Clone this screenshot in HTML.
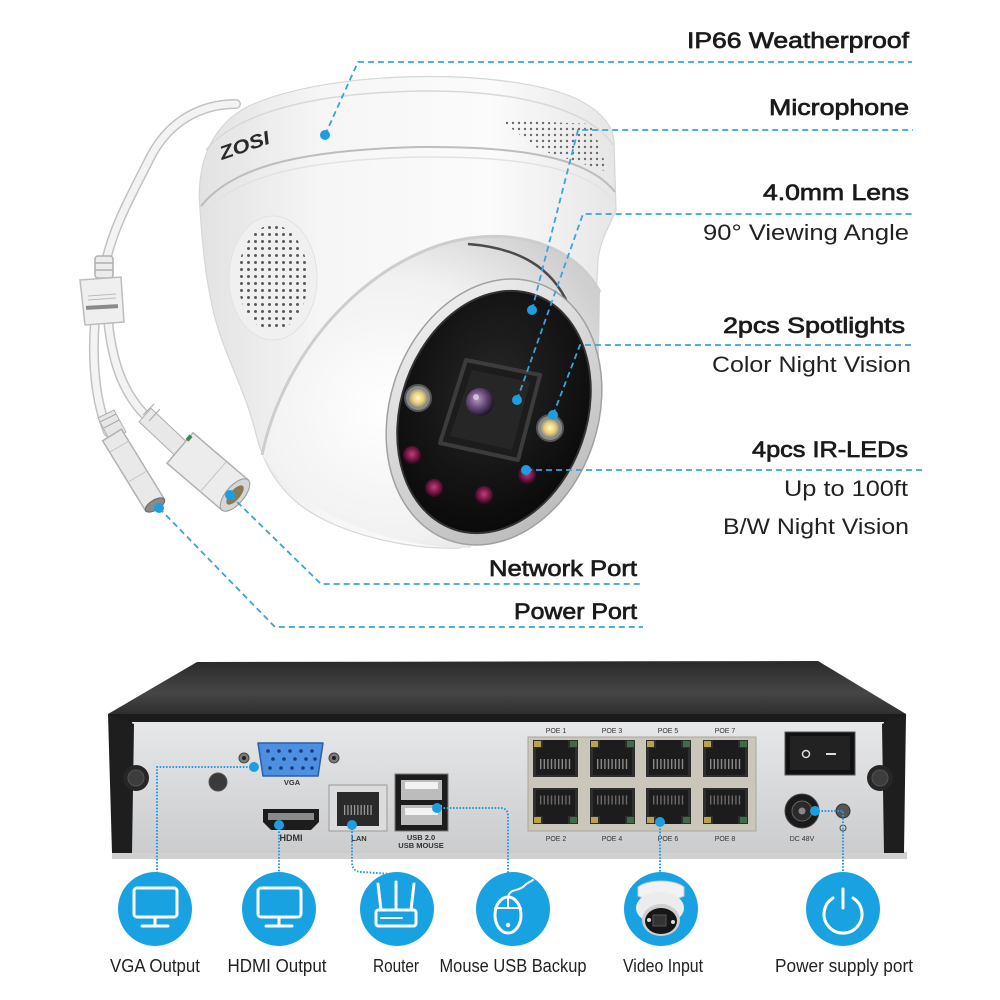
<!DOCTYPE html>
<html><head><meta charset="utf-8"><style>
html,body{margin:0;padding:0;background:#fff;width:1000px;height:1000px;overflow:hidden}
svg{display:block}
</style></head><body>
<svg width="1000" height="1000" viewBox="0 0 1000 1000" xmlns="http://www.w3.org/2000/svg" font-family="'Liberation Sans', Arial, sans-serif">
<defs>
  <linearGradient id="bodyG" x1="0" y1="0" x2="1" y2="0">
    <stop offset="0" stop-color="#e2e2e2"/><stop offset="0.3" stop-color="#f6f6f6"/>
    <stop offset="0.7" stop-color="#fbfbfb"/><stop offset="1" stop-color="#e6e6e6"/>
  </linearGradient>
  <radialGradient id="eyeG" cx="0.38" cy="0.55" r="0.7">
    <stop offset="0" stop-color="#ffffff"/><stop offset="0.6" stop-color="#f1f1f1"/><stop offset="1" stop-color="#cfcfcf"/>
  </radialGradient>
  <linearGradient id="bezelG" x1="0" y1="0" x2="1" y2="1">
    <stop offset="0" stop-color="#f5f5f5"/><stop offset="1" stop-color="#b4b4b4"/>
  </linearGradient>
  <radialGradient id="faceG" cx="0.45" cy="0.4" r="0.7">
    <stop offset="0" stop-color="#262626"/><stop offset="1" stop-color="#060606"/>
  </radialGradient>
  <radialGradient id="lensG" cx="0.4" cy="0.4" r="0.6">
    <stop offset="0" stop-color="#b59ac0"/><stop offset="0.5" stop-color="#6e4f7e"/><stop offset="1" stop-color="#22162a"/>
  </radialGradient>
  <radialGradient id="spotG" cx="0.5" cy="0.5" r="0.5">
    <stop offset="0" stop-color="#fff8d0"/><stop offset="0.6" stop-color="#e8d070"/><stop offset="1" stop-color="#9a9a8a"/>
  </radialGradient>
  <radialGradient id="irG" cx="0.5" cy="0.45" r="0.5">
    <stop offset="0" stop-color="#c0407a"/><stop offset="0.6" stop-color="#7a1a48"/><stop offset="1" stop-color="#3a0a22"/>
  </radialGradient>
  <linearGradient id="nvrTop" x1="0" y1="0" x2="0" y2="1">
    <stop offset="0" stop-color="#2a2a2a"/><stop offset="0.6" stop-color="#464646"/><stop offset="1" stop-color="#2e2e2e"/>
  </linearGradient>
  <linearGradient id="panel" x1="0" y1="0" x2="0" y2="1">
    <stop offset="0" stop-color="#e6e7e9"/><stop offset="1" stop-color="#cbccce"/>
  </linearGradient>
  <pattern id="dots" width="7" height="7" patternUnits="userSpaceOnUse">
    <circle cx="3.5" cy="3.5" r="1.5" fill="#5a5a5a"/>
  </pattern>
  <pattern id="dots2" width="6" height="6" patternUnits="userSpaceOnUse">
    <circle cx="3" cy="3" r="1.2" fill="#6a6a6a"/>
  </pattern>
  <g id="rjT">
    <rect x="0" y="0" width="45" height="37" fill="#2e2e2e"/>
    <rect x="3" y="8" width="39" height="27" fill="#1c1c1c"/>
    <rect x="10" y="0" width="25" height="9" fill="#1c1c1c"/>
    <line x1="7" y1="24" x2="38" y2="24" stroke="#8a8a8a" stroke-width="10" stroke-dasharray="1.4 2.2"/>
    <rect x="1" y="1" width="7" height="6" fill="#b9a24a"/>
    <rect x="37" y="1" width="7" height="6" fill="#3f6b46"/>
  </g>
  <g id="rjB">
    <rect x="0" y="0" width="45" height="36" fill="#2e2e2e"/>
    <rect x="3" y="2" width="39" height="26" fill="#1c1c1c"/>
    <rect x="10" y="27" width="25" height="9" fill="#1c1c1c"/>
    <line x1="7" y1="12" x2="38" y2="12" stroke="#6a6a6a" stroke-width="9" stroke-dasharray="1.4 2.2"/>
    <rect x="1" y="29" width="7" height="6" fill="#b9a24a"/>
    <rect x="37" y="29" width="7" height="6" fill="#3f6b46"/>
  </g>
</defs>

<rect width="1000" height="1000" fill="#fff"/>

<!-- ========== CABLES ========== -->
<g fill="none" stroke-linecap="round">
  <path d="M236,104 C200,104 168,122 150,158 C132,194 112,228 104,270" stroke="#c2c2c2" stroke-width="10"/>
  <path d="M236,104 C200,104 168,122 150,158 C132,194 112,228 104,270" stroke="#f3f3f3" stroke-width="7"/>
  <path d="M95,320 C92,360 95,400 108,432" stroke="#c2c2c2" stroke-width="10"/>
  <path d="M95,320 C92,360 95,400 108,432" stroke="#f3f3f3" stroke-width="7"/>
  <path d="M108,320 C112,360 122,392 146,416" stroke="#c2c2c2" stroke-width="10"/>
  <path d="M108,320 C112,360 122,392 146,416" stroke="#f3f3f3" stroke-width="7"/>
</g>
<!-- splitter collar -->
<g stroke="#b0b0b0" stroke-width="1.5">
  <rect x="95" y="256" width="18" height="22" rx="3" fill="#ececec"/>
  <line x1="95" y1="263" x2="113" y2="263"/><line x1="95" y1="270" x2="113" y2="270"/>
</g>
<polygon points="80,280 121,277 124,322 85,325" fill="#efefef" stroke="#bcbcbc" stroke-width="1.5"/>
<line x1="88" y1="296" x2="116" y2="294" stroke="#bbb" stroke-width="1"/>
<line x1="88" y1="300" x2="116" y2="298" stroke="#bbb" stroke-width="1"/>
<rect x="86" y="305" width="32" height="4" fill="#8a8a8a" transform="rotate(-3 102 307)"/>
<!-- power connector -->
<g>
  <polygon points="98,418 114,410 126,432 110,441" fill="#e6e6e6" stroke="#b0b0b0"/>
  <line x1="100" y1="422" x2="116" y2="414" stroke="#aaa"/><line x1="104" y1="428" x2="119" y2="420" stroke="#aaa"/>
  <polygon points="102.6,440.8 121.4,429.2 164.4,499.2 145.6,510.8" fill="#e9e9e9" stroke="#b2b2b2" stroke-width="1.5"/>
  <line x1="110" y1="452" x2="129" y2="441" stroke="#c4c4c4"/>
  <line x1="128" y1="482" x2="147" y2="471" stroke="#c4c4c4"/>
  <ellipse cx="155" cy="505" rx="11" ry="5" transform="rotate(-31.6 155 505)" fill="#8a8a8a" stroke="#666"/>
</g>
<!-- network connector -->
<g>
  <polygon points="150.9,408.2 139.1,421.8 174.1,454.8 185.9,441.2" fill="#e8e8e8" stroke="#b0b0b0"/>
  <line x1="143" y1="415" x2="154" y2="404" stroke="#aaa"/><line x1="149" y1="421" x2="160" y2="409" stroke="#aaa"/>
  <polygon points="193,432.8 167,463.2 222,510.2 248,479.8" fill="#ececec" stroke="#b0b0b0" stroke-width="1.5"/>
  <rect x="186" y="436" width="6" height="4" fill="#3a8a4a" transform="rotate(-49 189 438)"/>
  <line x1="200" y1="492" x2="226" y2="462" stroke="#c6c6c6"/>
  <ellipse cx="235" cy="495" rx="20" ry="9" transform="rotate(-49.3 235 495)" fill="#d6d6d6" stroke="#999"/>
  <ellipse cx="235" cy="495" rx="12" ry="5" transform="rotate(-49.3 235 495)" fill="#8a7a52"/>
</g>

<!-- ========== CAMERA ========== -->
<path d="M200,210 C196,165 210,128 245,108 C320,70 500,66 575,98 C600,110 613,125 614,142 L616,210 C610,225 600,240 598,260 L596,300 L560,500 L460,548 C410,550 340,535 300,505 C275,485 262,460 255,430 C245,390 222,350 213,310 C205,275 202,240 200,210 Z" fill="url(#bodyG)" stroke="#d6d6d6" stroke-width="1.2"/>
<path d="M206,150 C240,110 320,93 420,91 C520,90 590,110 613,145" fill="none" stroke="#d8d8d8" stroke-width="1.5"/>
<path d="M201,206 C230,170 290,150 420,147 C530,146 590,160 615,192" fill="none" stroke="#bdbdbd" stroke-width="2"/>
<path d="M203,214 C232,180 292,160 420,157 C530,156 590,170 615,202" fill="none" stroke="#e2e2e2" stroke-width="1.5"/>
<text x="0" y="0" transform="translate(222,160) rotate(-19)" font-size="19" font-weight="bold" font-style="italic" fill="#2a2a2a" textLength="52" lengthAdjust="spacingAndGlyphs">ZOSI</text>
<polygon points="500,120 592,124 608,172 540,150" fill="url(#dots2)"/>
<ellipse cx="273" cy="278" rx="44" ry="62" fill="#f0f0f0" stroke="#e2e2e2"/>
<ellipse cx="273" cy="278" rx="35" ry="53" fill="url(#dots)"/>
<path d="M262,455 C285,345 375,252 470,238 C530,230 578,252 600,292 L598,420 L470,548 C390,548 300,515 262,455 Z" fill="url(#eyeG)"/>
<path d="M262,455 C285,345 375,252 470,238 C530,230 578,252 600,292" fill="none" stroke="#cdcdcd" stroke-width="3"/>
<path d="M468,244 C520,248 552,268 568,304" fill="none" stroke="#4a4a4a" stroke-width="2.5"/>
<g transform="rotate(19 494 412)">
  <ellipse cx="494" cy="412" rx="104" ry="136" fill="url(#bezelG)" stroke="#a0a0a0" stroke-width="1.5"/>
  <ellipse cx="494" cy="412" rx="93" ry="124" fill="url(#faceG)" stroke="#333" stroke-width="2"/>
</g>
<polygon points="466,360 540,375 518,460 440,443" fill="#1c1c1c" stroke="#3c3c3c" stroke-width="4" stroke-linejoin="round"/>
<polygon points="472,370 530,382 512,450 450,436" fill="#262626"/>
<circle cx="480" cy="402" r="14" fill="url(#lensG)"/>
<circle cx="476" cy="397" r="3" fill="#e8d8f0" opacity="0.7"/>
<circle cx="418" cy="398" r="13" fill="#8a8a86" stroke="#555" stroke-width="2"/>
<circle cx="418" cy="398" r="9" fill="url(#spotG)"/>
<circle cx="550" cy="428" r="13" fill="#8a8a86" stroke="#555" stroke-width="2"/>
<circle cx="550" cy="428" r="9" fill="url(#spotG)"/>
<circle cx="412" cy="455" r="9" fill="url(#irG)"/>
<circle cx="434" cy="488" r="9" fill="url(#irG)"/>
<circle cx="484" cy="495" r="9" fill="url(#irG)"/>
<circle cx="527" cy="475" r="9" fill="url(#irG)"/>

<!-- ========== CAMERA CALLOUTS ========== -->
<g fill="none" stroke="#3ba3d6" stroke-width="1.8" stroke-dasharray="6 4">
  <polyline points="325,135 358,62 912,62"/>
  <polyline points="532,310 578,130 913,130"/>
  <polyline points="517,400 583,214 913,214"/>
  <polyline points="553,415 580,345 912,345"/>
  <polyline points="526,470 923,470"/>
  <polyline points="230,495 321,584 643,584"/>
  <polyline points="159,508 275,627 643,627"/>
</g>
<g fill="#1e9ee0">
  <circle cx="325" cy="135" r="5"/><circle cx="532" cy="310" r="5"/><circle cx="517" cy="400" r="5"/>
  <circle cx="553" cy="415" r="5"/><circle cx="526" cy="470" r="5"/><circle cx="230" cy="495" r="5"/>
  <circle cx="159" cy="508" r="5"/>
</g>

<g fill="#1b1b1b" stroke="#1b1b1b" stroke-width="0.7" font-size="22">
  <text x="687" y="48" textLength="222" lengthAdjust="spacingAndGlyphs">IP66 Weatherproof</text>
  <text x="769" y="115" textLength="140" lengthAdjust="spacingAndGlyphs">Microphone</text>
  <text x="763" y="200" textLength="146" lengthAdjust="spacingAndGlyphs">4.0mm Lens</text>
  <text x="723" y="333" textLength="182" lengthAdjust="spacingAndGlyphs">2pcs Spotlights</text>
  <text x="752" y="457" textLength="156" lengthAdjust="spacingAndGlyphs">4pcs IR-LEDs</text>
  <text x="489" y="576" textLength="148" lengthAdjust="spacingAndGlyphs">Network Port</text>
  <text x="514" y="619" textLength="123" lengthAdjust="spacingAndGlyphs">Power Port</text>
</g>
<g fill="#222" font-size="22">
  <text x="703" y="240" textLength="206" lengthAdjust="spacingAndGlyphs">90° Viewing Angle</text>
  <text x="712" y="372" textLength="199" lengthAdjust="spacingAndGlyphs">Color Night Vision</text>
  <text x="784" y="496" textLength="124" lengthAdjust="spacingAndGlyphs">Up to 100ft</text>
  <text x="723" y="534" textLength="186" lengthAdjust="spacingAndGlyphs">B/W Night Vision</text>
</g>

<!-- ========== NVR ========== -->
<rect x="112" y="852" width="795" height="7" fill="#9a9a9a" opacity="0.45"/>
<polygon points="197,662 818,661 906,714 108,714" fill="url(#nvrTop)"/>
<polygon points="108,714 906,714 900,724 114,724" fill="#1b1b1b"/>
<rect x="132" y="722" width="752" height="131" fill="url(#panel)"/>
<path d="M108,714 L134,724 L132,853 L112,853 Z" fill="#1e1e1e"/>
<path d="M906,714 L882,724 L884,853 L904,853 Z" fill="#1e1e1e"/>
<circle cx="136" cy="778" r="13" fill="#262626"/>
<circle cx="136" cy="778" r="8" fill="#3d3d3d" stroke="#555"/>
<circle cx="880" cy="778" r="13" fill="#262626"/>
<circle cx="880" cy="778" r="8" fill="#3d3d3d" stroke="#555"/>

<circle cx="244" cy="758" r="5" fill="#7a7a7a" stroke="#444"/><circle cx="244" cy="758" r="2" fill="#222"/>
<circle cx="334" cy="758" r="5" fill="#7a7a7a" stroke="#444"/><circle cx="334" cy="758" r="2" fill="#222"/>
<path d="M258,743 L323,743 L318,776 L263,776 Z" fill="#4d8fe0" stroke="#2a5fa8" stroke-width="1.5" stroke-linejoin="round"/>
<g fill="#1a3a70">
  <circle cx="268" cy="751" r="1.8"/><circle cx="279" cy="751" r="1.8"/><circle cx="290" cy="751" r="1.8"/><circle cx="301" cy="751" r="1.8"/><circle cx="312" cy="751" r="1.8"/>
  <circle cx="273" cy="759" r="1.8"/><circle cx="284" cy="759" r="1.8"/><circle cx="295" cy="759" r="1.8"/><circle cx="306" cy="759" r="1.8"/><circle cx="315" cy="759" r="1.8"/>
  <circle cx="270" cy="768" r="1.8"/><circle cx="281" cy="768" r="1.8"/><circle cx="292" cy="768" r="1.8"/><circle cx="303" cy="768" r="1.8"/><circle cx="312" cy="768" r="1.8"/>
</g>
<circle cx="218" cy="782" r="9" fill="#3a3a3a" stroke="#555"/>
<path d="M263,809 L319,809 L319,822 L311,830 L271,830 L263,822 Z" fill="#1c1c1c"/>
<rect x="268" y="813" width="46" height="7" fill="#8a8a8a"/>
<rect x="329" y="785" width="58" height="46" fill="#dcdcdc" stroke="#999"/>
<rect x="337" y="792" width="42" height="34" fill="#2a2a2a"/>
<line x1="344" y1="810" x2="372" y2="810" stroke="#999" stroke-width="10" stroke-dasharray="1.3 2"/>
<rect x="395" y="774" width="53" height="57" fill="#1c1c1c" stroke="#777"/>
<rect x="401" y="780" width="41" height="20" fill="#bcbcbc"/>
<rect x="405" y="782" width="33" height="7" fill="#f2f2f2"/>
<rect x="401" y="805" width="41" height="20" fill="#bcbcbc"/>
<rect x="405" y="808" width="33" height="7" fill="#f2f2f2"/>
<g font-size="7.5" font-weight="bold" fill="#333" text-anchor="middle">
  <text x="292" y="785">VGA</text>
  <text x="291" y="841" font-size="9">HDMI</text>
  <text x="359" y="841">LAN</text>
  <text x="421" y="840">USB 2.0</text>
  <text x="421" y="848">USB MOUSE</text>
</g>
<rect x="528" y="737" width="228" height="94" fill="#cbc6ba" stroke="#a9a69e"/>
<use href="#rjT" x="533" y="740"/><use href="#rjT" x="590" y="740"/><use href="#rjT" x="646" y="740"/><use href="#rjT" x="703" y="740"/>
<use href="#rjB" x="533" y="788"/><use href="#rjB" x="590" y="788"/><use href="#rjB" x="646" y="788"/><use href="#rjB" x="703" y="788"/>
<g font-size="7" fill="#333" text-anchor="middle">
  <text x="556" y="733">POE 1</text><text x="612" y="733">POE 3</text><text x="668" y="733">POE 5</text><text x="725" y="733">POE 7</text>
  <text x="556" y="841">POE 2</text><text x="612" y="841">POE 4</text><text x="668" y="841">POE 6</text><text x="725" y="841">POE 8</text>
  <text x="802" y="841">DC 48V</text>
</g>
<rect x="785" y="732" width="70" height="43" fill="#111" stroke="#555"/>
<rect x="790" y="736" width="60" height="34" fill="#222"/>
<circle cx="806" cy="754" r="3.5" fill="none" stroke="#ddd" stroke-width="1.5"/>
<line x1="826" y1="754" x2="836" y2="754" stroke="#ddd" stroke-width="2"/>
<circle cx="802" cy="811" r="17" fill="#1a1a1a" stroke="#444"/>
<circle cx="802" cy="811" r="10" fill="#2a2a2a" stroke="#666"/>
<circle cx="802" cy="811" r="3.5" fill="#888"/>
<circle cx="843" cy="811" r="7" fill="#555" stroke="#333"/>
<circle cx="843" cy="828" r="3" fill="none" stroke="#444"/>

<g fill="none" stroke="#2b9be0" stroke-width="2" stroke-dasharray="1.6 1.6">
  <polyline points="254,767 157,767 157,874"/>
  <polyline points="279,825 279,874"/>
  <path d="M352,825 L352,862 Q352,872 362,872 L392,874"/>
  <path d="M437,808 L500,808 Q508,808 508,816 L508,874"/>
  <polyline points="660,822 660,874"/>
  <polyline points="815,811 843,811 843,874"/>
</g>
<g fill="#1e9ee0">
  <circle cx="254" cy="767" r="5"/><circle cx="279" cy="825" r="5"/><circle cx="352" cy="825" r="5"/>
  <circle cx="437" cy="808" r="5"/><circle cx="660" cy="822" r="5"/><circle cx="815" cy="811" r="5"/>
</g>

<!-- ========== BOTTOM ICONS ========== -->
<g fill="#19a2e2">
  <circle cx="155" cy="909" r="37"/><circle cx="279" cy="909" r="37"/><circle cx="397" cy="909" r="37"/>
  <circle cx="513" cy="909" r="37"/><circle cx="661" cy="909" r="37"/><circle cx="843" cy="909" r="37"/>
</g>
<g fill="none" stroke="#fff" stroke-width="3" stroke-linecap="round" stroke-linejoin="round">
  <rect x="134" y="888" width="43" height="29" rx="3"/>
  <line x1="155" y1="917" x2="155" y2="925"/><line x1="142" y1="926" x2="168" y2="926"/>
  <rect x="258" y="888" width="43" height="29" rx="3"/>
  <line x1="279" y1="917" x2="279" y2="925"/><line x1="266" y1="926" x2="292" y2="926"/>
  <rect x="376" y="910" width="40" height="16" rx="2.5"/>
  <line x1="381" y1="910" x2="378" y2="884"/><line x1="396" y1="910" x2="396" y2="882"/><line x1="411" y1="910" x2="414" y2="884"/>
  <line x1="381" y1="918" x2="402" y2="918" stroke-width="2"/>
  <ellipse cx="508" cy="915" rx="13" ry="18"/>
  <line x1="508" y1="897" x2="508" y2="908" stroke-width="2"/>
  <line x1="495" y1="908" x2="521" y2="908" stroke-width="2"/>
  <path d="M508,897 C510,888 518,892 524,886 C528,882 530,882 533,880" stroke-width="2"/>
  <path d="M833,898 A19,19 0 1,0 853,898"/>
  <line x1="843" y1="889" x2="843" y2="908"/>
</g>
<circle cx="508" cy="925" r="2.2" fill="#fff"/>
<path d="M638,887 C648,879 674,879 684,887 L684,896 C672,902 650,902 638,896 Z" fill="#f2f2f2" stroke="#c8c8c8"/>
<ellipse cx="660" cy="908" rx="24" ry="16" fill="#ececec"/>
<ellipse cx="661" cy="920" rx="19" ry="16" fill="#cfcfcf"/>
<ellipse cx="661" cy="921" rx="16" ry="13" fill="#161616"/>
<rect x="653" y="915" width="13" height="11" fill="#333" stroke="#555"/>
<circle cx="649" cy="920" r="2" fill="#ddd"/><circle cx="673" cy="922" r="2" fill="#ddd"/>

<g fill="#222" font-size="18" text-anchor="middle">
  <text x="155" y="972" textLength="90" lengthAdjust="spacingAndGlyphs">VGA Output</text>
  <text x="277" y="972" textLength="99" lengthAdjust="spacingAndGlyphs">HDMI Output</text>
  <text x="396" y="972" textLength="46" lengthAdjust="spacingAndGlyphs">Router</text>
  <text x="513" y="972" textLength="147" lengthAdjust="spacingAndGlyphs">Mouse USB Backup</text>
  <text x="663" y="972" textLength="80" lengthAdjust="spacingAndGlyphs">Video Input</text>
  <text x="844" y="972" textLength="138" lengthAdjust="spacingAndGlyphs">Power supply port</text>
</g>
</svg>
</body></html>
